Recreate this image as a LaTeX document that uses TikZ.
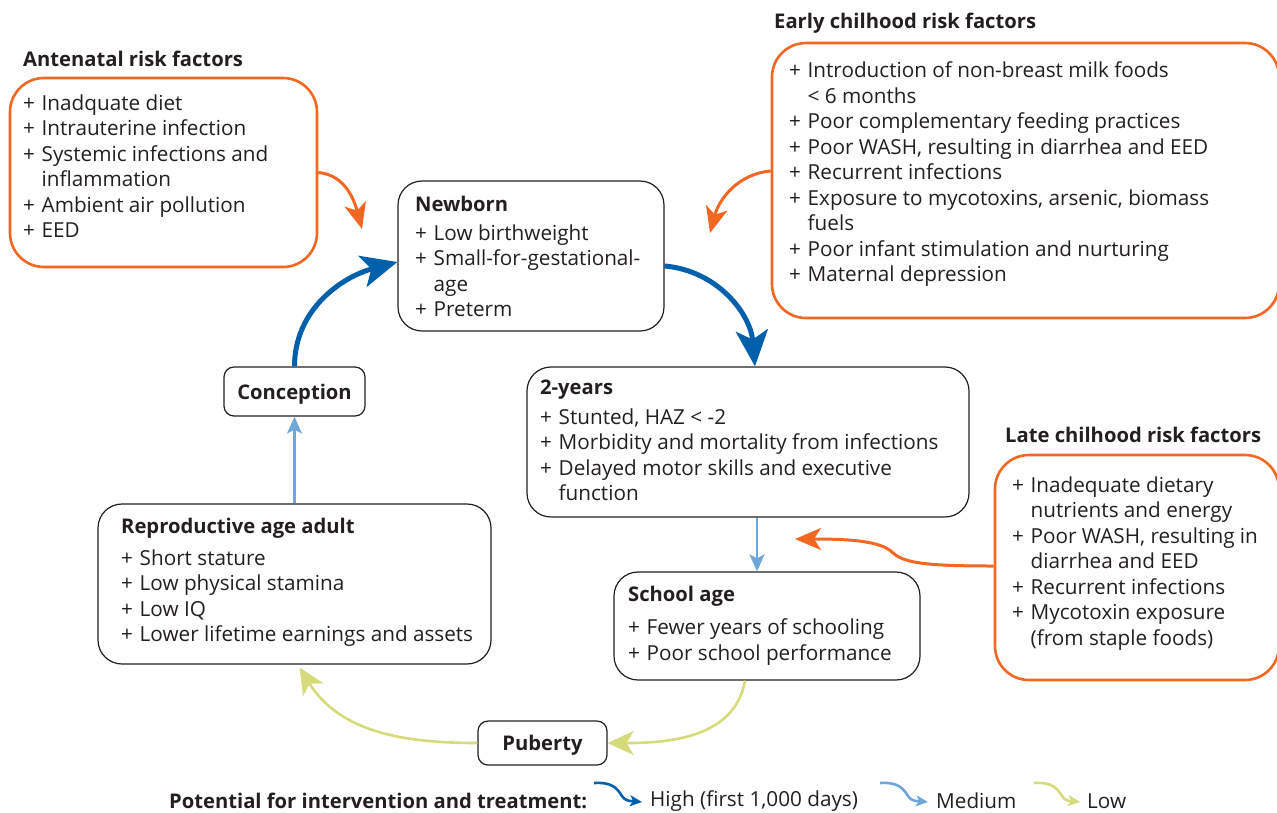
\documentclass[tikz,border=0pt]{standalone}
\usepackage{fontspec}
\setmainfont{Open Sans}
\usetikzlibrary{arrows.meta,calc}
\definecolor{dblue}{HTML}{0060AB}
\definecolor{mblue}{HTML}{6EA8DB}
\definecolor{ygreen}{HTML}{D6DA7A}
\definecolor{orng}{HTML}{F26722}
\definecolor{ink}{HTML}{231F20}
\newcommand{\pl}{\makebox[18.5pt][l]{+}}
\newcommand{\ind}{\hspace*{18.5pt}}
\begin{document}
\begin{tikzpicture}[x=1pt,y=-1pt,
  riskbox/.style={draw=orng, line width=2.6pt, rounded corners=34pt, inner sep=0pt},
  stage/.style={draw=ink, line width=1.2pt, rounded corners=24pt, inner sep=0pt},
  smallbox/.style={draw=ink, line width=1.2pt, rounded corners=10pt, inner sep=0pt, text=ink, text height=15pt, text depth=0pt, font=\fontsize{20.2}{24}\selectfont\bfseries},
  txt/.style={anchor=north west, align=left, inner sep=0pt, text=ink, font=\fontsize{20.7}{25.5}\selectfont},
  ttl/.style={anchor=west, inner sep=0pt, text=ink, font=\fontsize{20.2}{24}\selectfont\bfseries},
  legtxt/.style={anchor=west, inner sep=0pt, text=ink, font=\fontsize{20.7}{24}\selectfont},
  highA/.style={draw=dblue, line width=5pt, -{Stealth[length=36pt,width=32pt,inset=9pt]}},
  medA/.style={draw=mblue, line width=2.4pt, -{Stealth[length=17pt,width=15pt,inset=4pt]}},
  lowA/.style={draw=ygreen, line width=2.6pt, -{Stealth[length=26pt,width=24pt,inset=7pt]}},
  riskA/.style={draw=orng, line width=3pt, -{Stealth[length=26pt,width=22pt,inset=7pt]}},
  legH/.style={draw=dblue, line width=2.6pt, -{Stealth[length=12pt,width=11pt,inset=3pt]}},
  legM/.style={draw=mblue, line width=2.6pt, -{Stealth[length=12pt,width=11pt,inset=3pt]}},
  legL/.style={draw=ygreen, line width=2.6pt, -{Stealth[length=12pt,width=11pt,inset=3pt]}}
]
\useasboundingbox (0,0) rectangle (1277,812);

% ---- risk factor boxes
\node[ttl] (antT) at (23,59) {Antenatal risk factors};
\node[riskbox, minimum width=307pt, minimum height=189pt] (ant) at (163.5,172.5) {};
\node[txt] (antL) at (23,94.5) {\pl Inadquate diet\\ \pl Intrauterine infection\\ \pl Systemic infections and\\ \ind inflammation\\ \pl Ambient air pollution\\ \pl EED};

\node[ttl] (earlyT) at (774,23) {Early chilhood risk factors};
\node[riskbox, minimum width=507pt, minimum height=275pt] (early) at (1025.5,180.5) {};
\node[txt] (earlyL) at (789,61.5) {\pl Introduction of non-breast milk foods\\ \ind {<} 6 months\\ \pl Poor complementary feeding practices\\ \pl Poor WASH, resulting in diarrhea and EED\\ \pl Recurrent infections\\ \pl Exposure to mycotoxins, arsenic, biomass\\ \ind fuels\\ \pl Poor infant stimulation and nurturing\\ \pl Maternal depression};

\node[ttl] (lateT) at (1005,435) {Late chilhood risk factors};
\node[riskbox, minimum width=284pt, minimum height=225pt] (late) at (1137,567.5) {};
\node[txt] (lateL) at (1012,476.5) {\pl Inadequate dietary\\ \ind nutrients and energy\\ \pl Poor WASH, resulting in\\ \ind diarrhea and EED\\ \pl Recurrent infections\\ \pl Mycotoxin exposure\\ \ind (from staple foods)};

% ---- life stage boxes
\node[stage, minimum width=266pt, minimum height=150pt] (newborn) at (531,256) {};
\node[ttl] (newbornT) at (415,204) {Newborn};
\node[txt] (newbornL) at (415,224.5) {\pl Low birthweight\\ \pl Small-for-gestational-\\ \ind age\\ \pl Preterm};

\node[stage, minimum width=442pt, minimum height=150pt] (ty) at (748,442) {};
\node[ttl] (tyT) at (540,390) {2-years};
\node[txt] (tyL) at (540,408.5) {\pl Stunted, HAZ {<} -2\\ \pl Morbidity and mortality from infections\\ \pl Delayed motor skills and executive\\ \ind function};

\node[stage, minimum width=306pt, minimum height=108pt] (school) at (767,626) {};
\node[ttl] (schoolT) at (628,596) {School age};
\node[txt] (schoolL) at (628,618.5) {\pl Fewer years of schooling\\ \pl Poor school performance};

\node[stage, minimum width=393pt, minimum height=160pt] (repro) at (294.5,584) {};
\node[ttl] (reproT) at (121,528) {Reproductive age adult};
\node[txt] (reproL) at (121,549.5) {\pl Short stature\\ \pl Low physical stamina\\ \pl Low IQ\\ \pl Lower lifetime earnings and assets};

\node[smallbox, minimum width=141pt, minimum height=49pt] (conc) at (294.5,391.5) {Conception};
\node[smallbox, minimum width=129pt, minimum height=44pt] (pub) at (542.5,743) {Puberty};

% ---- cycle connectors
\draw[highA] (conc.north) to[out=90,in=195] ([yshift=-6pt]newborn.west);
\draw[highA] ([yshift=-10pt]newborn.east) to[out=-5,in=95] ([xshift=7pt]ty.north);
\draw[medA] ([xshift=9pt]ty.south) -- ([xshift=-10pt]school.north);
\draw[lowA] ([xshift=-22pt]school.south) to[out=-100,in=0] (pub.east);
\draw[lowA] (pub.west) to[out=180,in=-58] ([xshift=5pt,yshift=-3pt]repro.south);
\draw[medA] (repro.north) -- (conc.south);

% ---- risk connectors
\coordinate (antTip) at (362,229);
\coordinate (earlyTip) at (710,233);
\coordinate (lateTip) at (795,539);
\draw[riskA] (ant.east) to[out=-5,in=105] (antTip);
\draw[riskA] ([yshift=9.5pt]early.west) to[out=185,in=75] (earlyTip);
\draw[riskA] ([yshift=1.5pt]late.west) .. controls (925,566) and (903,563) .. (892,552) .. controls (880,541) and (850,539) .. (lateTip);

% ---- legend
\node[ttl] (legT) at (169,801) {Potential for intervention and treatment:};
\coordinate (h1) at (594,783); \coordinate (h2) at (642,802);
\coordinate (m1) at (880,783); \coordinate (m2) at (928,802);
\coordinate (l1) at (1034,783); \coordinate (l2) at (1080,802);
\draw[legH] (h1) .. controls (612,782) and (617,788) .. (622,796) .. controls (626,802) and (632,801) .. (h2);
\draw[legM] (m1) .. controls (898,782) and (903,788) .. (908,796) .. controls (912,802) and (918,801) .. (m2);
\draw[legL] (l1) .. controls (1052,782) and (1057,788) .. (1062,796) .. controls (1066,802) and (1072,801) .. (l2);
\node[legtxt] (legH) at (650,801) {High (first 1,000 days)};
\node[legtxt] (legM) at (936,801) {Medium};
\node[legtxt] (legL) at (1087,801) {Low};
\end{tikzpicture}
\end{document}
